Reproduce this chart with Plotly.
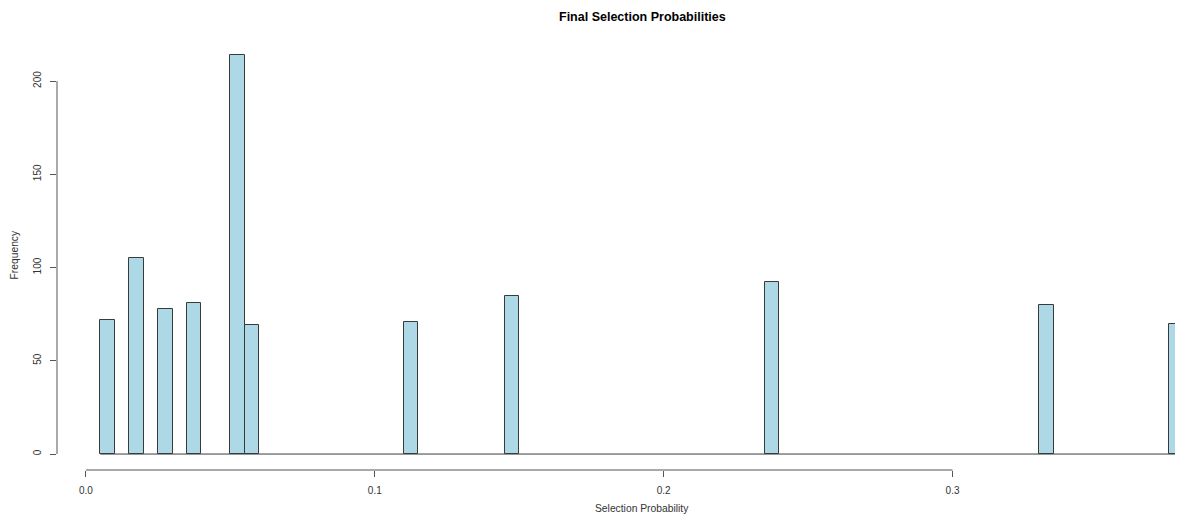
import plotly.graph_objects as go

# Histogram data (non-empty bins), bin width 0.005
bin_left = [0.005, 0.015, 0.025, 0.035, 0.050, 0.055, 0.110, 0.145, 0.235, 0.330, 0.375]
counts = [72, 105, 78, 81, 214, 69, 71, 85, 92, 80, 70]
bin_width = 0.005
first_break = 0.005
last_break = 0.380

x_ticks = [0.0, 0.1, 0.2, 0.3]
x_tick_text = ["0.0", "0.1", "0.2", "0.3"]
y_ticks = [0, 50, 100, 150, 200]

title = "Final Selection Probabilities"
x_label = "Selection Probability"
y_label = "Frequency"

# R-style axis limits (4% expansion)
span = last_break - first_break
xlim_lo = first_break - 0.04 * span
xlim_hi_full = last_break + 0.04 * span
ymax = max(counts)
ylim = [-0.04 * ymax, ymax * 1.04]

centers = [b + bin_width / 2 for b in bin_left]

fig = go.Figure()
fig.add_trace(go.Bar(
    x=centers, y=counts, width=[bin_width] * len(counts),
    marker=dict(color="#ADD8E6", line=dict(color="#3a3a3a", width=1)),
    hoverinfo="x+y", showlegend=False,
))

text_col = "#333333"
axis_col = "#555555"
font_family = "Liberation Sans, Arial, Helvetica, sans-serif"

# page has an 8px body margin; compensate so the plot lands where the reference has it
OFF = 8
W, H = 1183 - OFF, 515 - OFF
ml, mt, mb = 57 - OFF, 39 - OFF, 45
# plot region in the reference extends past window; clip at window edge
px_per_unit = 1170 / (xlim_hi_full - xlim_lo)
xlim_hi = xlim_lo + (W - ml) / px_per_unit

fig.update_layout(
    width=W, height=H,
    margin=dict(l=ml, r=0, t=mt, b=mb),
    plot_bgcolor="white", paper_bgcolor="white",
    font=dict(family=font_family, size=10, color=text_col),
    bargap=0,
    xaxis=dict(
        range=[xlim_lo, xlim_hi], showgrid=False, zeroline=False, showline=False,
        tickmode="array", tickvals=x_ticks, ticktext=x_tick_text,
        ticks="outside", ticklen=6, tickcolor=axis_col, tickwidth=1,
        ticklabelstandoff=5, tickfont=dict(size=10, color=text_col),
    ),
    yaxis=dict(
        range=ylim, showgrid=False, zeroline=False, showline=False,
        tickmode="array", tickvals=y_ticks, ticktext=[str(v) for v in y_ticks],
        ticks="outside", ticklen=6, tickcolor=axis_col, tickwidth=1,
        tickangle=-90, ticklabelstandoff=5, tickfont=dict(size=10, color=text_col),
    ),
)

# R-style axis lines spanning only the tick range
fig.add_shape(type="line", xref="x", yref="paper", x0=x_ticks[0], x1=x_ticks[-1], y0=0, y1=0,
              line=dict(color=axis_col, width=1))
fig.add_shape(type="line", xref="paper", yref="y", x0=0, x1=0, y0=y_ticks[0], y1=y_ticks[-1],
              line=dict(color=axis_col, width=1))
# baseline of zero-count bins
fig.add_shape(type="line", xref="x", yref="y", x0=first_break, x1=last_break, y0=0, y1=0,
              line=dict(color="#3a3a3a", width=1))

mid_x = (xlim_lo + xlim_hi_full) / 2
fig.add_annotation(text="<b>" + title + "</b>", xref="x", yref="paper", x=mid_x, y=1,
                   yshift=22, showarrow=False, font=dict(size=12.5, color="#000000"),
                   xanchor="center", yanchor="middle")
fig.add_annotation(text=x_label, xref="x", yref="paper", x=mid_x, y=0, yshift=-38,
                   showarrow=False, font=dict(size=10.3, color=text_col),
                   xanchor="center", yanchor="middle")
fig.add_annotation(text=y_label, xref="paper", yref="y", x=0, xshift=-43, y=(ylim[0] + ylim[1]) / 2,
                   textangle=-90, showarrow=False, font=dict(size=10.3, color=text_col),
                   xanchor="center", yanchor="middle")

fig.write_html("out.html")
